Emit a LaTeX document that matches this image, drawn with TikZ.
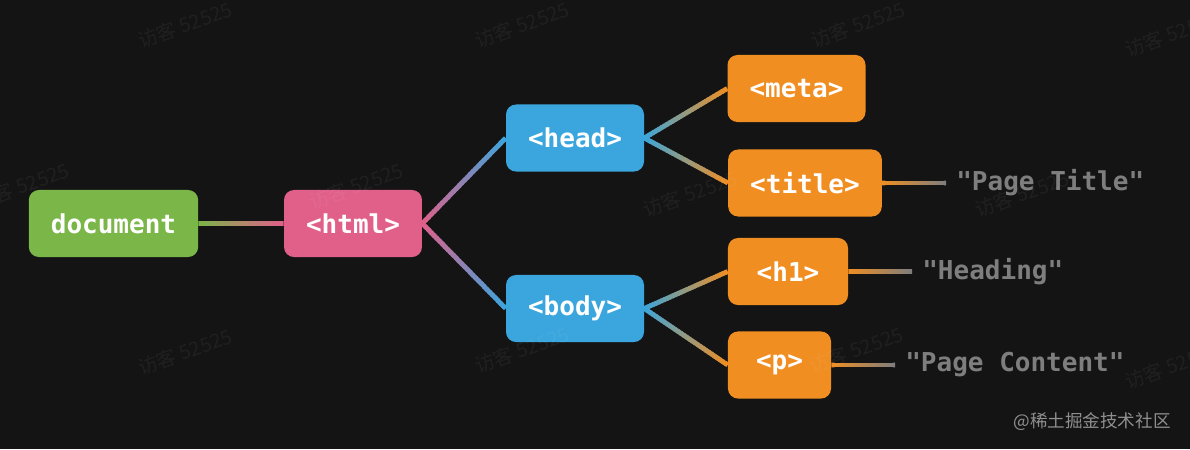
\documentclass[tikz,border=0pt]{standalone}
\usepackage{fontspec}
\setmonofont{DejaVu Sans Mono}
\newfontfamily\cjkfont{Noto Sans CJK SC}
\usetikzlibrary{calc}

\definecolor{bg}{HTML}{141414}
\definecolor{cgreen}{HTML}{7AB648}
\definecolor{cpink}{HTML}{E0608A}
\definecolor{cblue}{HTML}{3AA6DD}
\definecolor{corange}{HTML}{F08E22}
\definecolor{cgrey}{HTML}{7E7E7E}
\definecolor{csign}{HTML}{8F8F8F}

\newcommand{\tagfont}{\ttfamily\bfseries\fontsize{18.5}{20}\selectfont}
% gradient wire: from anchor #1 to anchor #2, colour #3 to #4
\newcommand{\grad}[4]{%
  \foreach \i in {0,...,29}{%
    \pgfmathsetmacro{\ta}{\i/30}%
    \pgfmathsetmacro{\tb}{min(1,(\i+1.5)/30)}%
    \pgfmathtruncatemacro{\pc}{100-(\i+0.5)*100/30}%
    \draw[wire, draw=#3!\pc!#4] ($(#1)!\ta!(#2)$) -- ($(#1)!\tb!(#2)$);
  }}

\tikzset{
  box/.style   = {rounded corners=0.25cm, minimum height=1.675cm,
                  inner xsep=0.55cm, text=white, font=\tagfont},
  gbox/.style  = {box, fill=cgreen},
  pbox/.style  = {box, fill=cpink},
  bbox/.style  = {box, fill=cblue},
  obox/.style  = {box, fill=corange},
  txt/.style   = {anchor=west, inner xsep=0.25cm, text=cgrey, font=\tagfont},
  wire/.style  = {line width=3.4pt, line cap=butt},
  wmark/.style = {rotate=20, text=white, text opacity=0.05,
                  font=\cjkfont\fontsize{14}{15}\selectfont},
}

\begin{document}
\begin{tikzpicture}[x=0.025cm, y=-0.025cm]

  \useasboundingbox (0,0) rectangle (1190,449);
  \fill[bg] (0,0) rectangle (1190,449);

  % ===== boxes ==========================================================
  \node[gbox] (doc)   at (113.5,223.5) {document};
  \node[pbox] (html)  at (353.0,223.5) {<html>};
  \node[bbox] (head)  at (575.0,138.0) {<head>};
  \node[bbox] (body)  at (575.0,308.5) {<body>};
  \node[obox] (meta)  at (796.5, 88.5) {<meta>};
  \node[obox] (title) at (805.0,183.0) {<title>};
  \node[obox, minimum width=3.0cm]   (hone) at (788.0,271.5) {<h1>};
  \node[obox, minimum width=2.575cm] (para) at (779.5,365.0) {<p>};

  % ===== text leaves ====================================================
  \node[txt] (ttitle) at (946.0,183.0) {"Page Title"};
  \node[txt] (thead)  at (912.0,271.5) {"Heading"};
  \node[txt] (tcont)  at (895.0,365.0) {"Page Content"};

  % ===== wires ==========================================================
  \grad{doc.east}{html.west}{cgreen}{cpink}
  \grad{html.east}{head.west}{cpink}{cblue}
  \grad{html.east}{body.west}{cpink}{cblue}
  \grad{head.east}{meta.west}{cblue}{corange}
  \grad{head.east}{title.west}{cblue}{corange}
  \grad{body.east}{hone.west}{cblue}{corange}
  \grad{body.east}{para.west}{cblue}{corange}
  \grad{title.east}{ttitle.west}{corange}{cgrey}
  \grad{hone.east}{thead.west}{corange}{cgrey}
  \grad{para.east}{tcont.west}{corange}{cgrey}

  % ===== watermarks =====================================================
  \foreach \x/\y [count=\k] in {185/25, 522/25, 858/25, 1172/34,
                               22/186, 356/186, 690/194, 1022/194,
                               185/352, 522/350, 856/350, 1172/366}
    \node[wmark] (wm\k) at (\x,\y) {访客 52525};
  \node[text=csign, font=\cjkfont\fontsize{12.5}{14}\selectfont]
       (sign) at (1092,422) {@稀土掘金技术社区};

\end{tikzpicture}
\end{document}
